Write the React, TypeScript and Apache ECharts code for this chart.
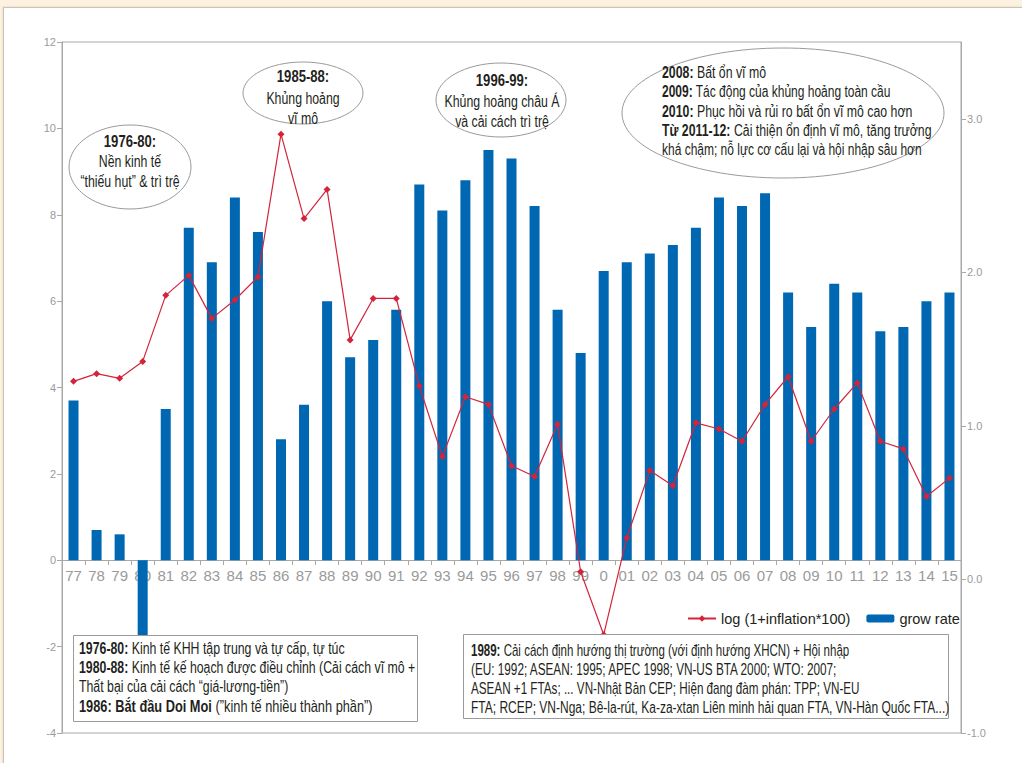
import React, { useEffect, useRef } from "react";
import * as echarts from "echarts";

const categories = ["77","78","79","80","81","82","83","84","85","86","87","88","89","90","91","92","93","94","95","96","97","98","99","0","01","02","03","04","05","06","07","08","09","10","11","12","13","14","15"];
const growRate = [3.7,0.7,0.6,-1.8,3.5,7.7,6.9,8.4,7.6,2.8,3.6,6.0,4.7,5.1,5.8,8.7,8.1,8.8,9.5,9.3,8.2,5.8,4.8,6.7,6.9,7.1,7.3,7.7,8.4,8.2,8.5,6.2,5.4,6.4,6.2,5.3,5.4,6.0,6.2];
const logInflation = [1.29,1.34,1.31,1.42,1.85,1.98,1.70,1.82,1.97,2.90,2.35,2.54,1.56,1.83,1.83,1.26,0.80,1.19,1.14,0.74,0.67,1.01,0.05,-0.36,0.27,0.71,0.61,1.02,0.98,0.90,1.14,1.32,0.90,1.11,1.28,0.90,0.85,0.54,0.66];
const seriesNames = ["log (1+inflation*100)", "grow rate"];

const FONT = '"Liberation Sans", Arial, sans-serif';
const TXT = "#231f20";
const SX = 0.77;

function txt(x: number, y: number, text: string, opts: any = {}) {
  const fs = opts.fontSize ?? 16;
  return {
    type: "text",
    x,
    y,
    scaleX: opts.scaleX ?? SX,
    z: 101,
    style: {
      text,
      fontSize: fs,
      fontWeight: opts.bold ? "bold" : "normal",
      fontFamily: FONT,
      fill: TXT,
      textAlign: opts.align ?? "left",
      textVerticalAlign: "middle",
      rich: {
        b: { fontWeight: "bold", fontSize: fs, fontFamily: FONT, fill: TXT },
      },
    },
  };
}

function ellipse(cx: number, cy: number, rx: number, ry: number) {
  return {
    type: "ellipse",
    z: 100,
    shape: { cx, cy, rx, ry },
    style: { fill: "#fff", stroke: "#9a9a9a", lineWidth: 1 },
  };
}

function rect(x: number, y: number, w: number, h: number) {
  return {
    type: "rect",
    z: 100,
    shape: { x, y, width: w, height: h },
    style: { fill: "#fff", stroke: "#9a9a9a", lineWidth: 1 },
  };
}

export default function App() {
  const ref = useRef<HTMLDivElement>(null);
  useEffect(() => {
    if (!ref.current) return;
    const chart = echarts.init(ref.current, undefined, { renderer: "svg" });
    chart.setOption({
      animation: false,
      grid: { left: 62, right: 61, top: 42, bottom: 30, show: true, borderColor: "#a8a8a8", borderWidth: 1, backgroundColor: "transparent" },
      legend: {
        left: 682,
        top: 606,
        itemWidth: 28,
        itemHeight: 8,
        itemGap: 16,
        textStyle: { fontFamily: FONT, fontSize: 14.5, color: TXT },
        data: seriesNames,
      },
      xAxis: {
        type: "category",
        data: categories,
        position: "bottom",
        offset: -173,
        axisLine: { onZero: false, lineStyle: { color: "#a8a8a8" } },
        axisTick: { show: true, length: 5, lineStyle: { color: "#a8a8a8" } },
        axisLabel: { interval: 0, color: "#9a9a9a", fontFamily: FONT, fontSize: 15, margin: 8 },
        splitLine: { show: false },
      },
      yAxis: [
        {
          type: "value",
          min: -4,
          max: 12,
          interval: 2,
          axisLine: { show: true, lineStyle: { color: "#a8a8a8" } },
          axisTick: { show: true, length: 5, lineStyle: { color: "#a8a8a8" } },
          axisLabel: { color: "#9a9a9a", fontFamily: FONT, fontSize: 11, margin: 6 },
          splitLine: { show: false },
        },
        {
          type: "value",
          min: -1,
          max: 3.5,
          interval: 1,
          position: "right",
          axisLine: { show: true, lineStyle: { color: "#a8a8a8" } },
          axisTick: { show: true, length: 5, lineStyle: { color: "#a8a8a8" } },
          axisLabel: { color: "#9a9a9a", fontFamily: FONT, fontSize: 11, margin: 6, showMaxLabel: false, formatter: (v: number) => v.toFixed(1) },
          splitLine: { show: false },
        },
      ],
      series: [
        {
          name: seriesNames[0],
          type: "line",
          yAxisIndex: 1,
          data: logInflation,
          symbol: "diamond",
          symbolSize: 7,
          lineStyle: { color: "#d3243a", width: 1.2 },
          itemStyle: { color: "#d3243a" },
          z: 5,
        },
        {
          name: seriesNames[1],
          type: "bar",
          yAxisIndex: 0,
          data: growRate,
          barWidth: 10,
          itemStyle: { color: "#0067b2" },
          z: 2,
        },
      ],
      graphic: [
        ellipse(130, 167, 61, 42),
        txt(130, 141, "1976-80:", { bold: true, align: "center", fontSize: 17 }),
        txt(130, 161, "Nền kinh tế", { align: "center" }),
        txt(130, 181, "“thiếu hụt” & trì trệ", { align: "center" }),

        ellipse(303, 93, 60, 31),
        txt(303, 76, "1985-88:", { bold: true, align: "center", fontSize: 17 }),
        txt(303, 98, "Khủng hoảng", { align: "center" }),
        txt(303, 118, "vĩ mô", { align: "center" }),

        ellipse(501, 100, 65, 37),
        txt(502, 80, "1996-99:", { bold: true, align: "center", fontSize: 17 }),
        txt(502, 101, "Khủng hoảng châu Á", { align: "center" }),
        txt(502, 121, "và cải cách trì trệ", { align: "center" }),

        ellipse(783, 113, 161, 65),
        txt(662, 72, "{b|2008:} Bất ổn vĩ mô"),
        txt(662, 91, "{b|2009:} Tác động của khủng hoảng toàn cầu", { scaleX: 0.75 }),
        txt(662, 111, "{b|2010:} Phục hồi và rủi ro bất ổn vĩ mô cao hơn"),
        txt(662, 130, "{b|Từ 2011-12:} Cải thiện ổn định vĩ mô, tăng trưởng"),
        txt(662, 149, "khá chậm; nỗ lực cơ cấu lại và hội nhập sâu hơn", { scaleX: 0.75 }),

        rect(73.5, 635.5, 344, 86),
        txt(79, 648, "{b|1976-80:} Kinh tế KHH tập trung và tự cấp, tự túc"),
        txt(79, 667, "{b|1980-88:} Kinh tế kế hoạch được điều chỉnh (Cải cách vĩ mô +"),
        txt(79, 686, "Thất bại của cải cách “giá-lương-tiền”)"),
        txt(79, 706, "{b|1986: Bắt đầu Doi Moi} (”kinh tế nhiều thành phần”)", { scaleX: 0.8 }),

        rect(463.5, 634.5, 485, 84),
        txt(471, 650, "{b|1989:} Cải cách định hướng thị trường (với định hướng XHCN) + Hội nhập", { scaleX: 0.72 }),
        txt(471, 669, "(EU: 1992; ASEAN: 1995; APEC 1998; VN-US BTA 2000; WTO: 2007;", { scaleX: 0.735 }),
        txt(471, 688, "ASEAN +1 FTAs; ... VN-Nhật Bản CEP; Hiện đang đàm phán: TPP; VN-EU", { scaleX: 0.73 }),
        txt(471, 707, "FTA; RCEP; VN-Nga; Bê-la-rút, Ka-za-xtan Liên minh hải quan FTA, VN-Hàn Quốc FTA...)", { scaleX: 0.75 }),
      ],
    });
    return () => chart.dispose();
  }, []);

  return (
    <div style={{ position: "absolute", left: 0, top: 0, width: 1022, height: 763, background: "#fdf2e0", overflow: "hidden" }}>
      <div style={{ position: "absolute", left: 3, top: 7, width: 1040, height: 800, background: "#fff", borderLeft: "1px solid #c9c3b8", borderTop: "1px solid #c9c3b8", boxShadow: "0 0 2px #d8d0c0" }} />
      <div ref={ref} style={{ position: "absolute", left: 0, top: 0, width: 1022, height: 763 }} />
    </div>
  );
}
